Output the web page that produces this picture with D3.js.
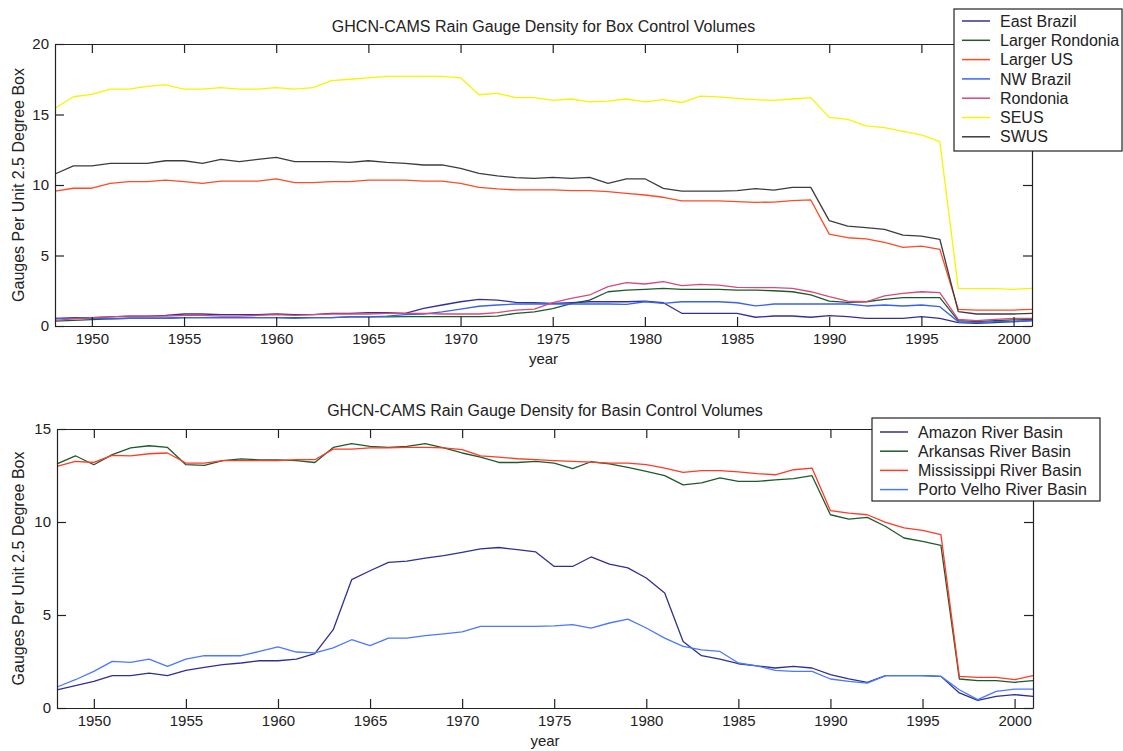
<!DOCTYPE html>
<html>
<head>
<meta charset="utf-8">
<script src="https://cdn.jsdelivr.net/npm/d3@7"></script>
<style>
  html, body { margin: 0; padding: 0; background: #fff; }
  svg { display: block; font-family: "Liberation Sans", Arial, Helvetica, sans-serif; }
</style>
</head>
<body>
<svg id="chart" width="1123" height="751"></svg>
<script>
// Yearly gauge densities, 1948-2001
const years = d3.range(1948, 2002);

// Box control volumes
const eastBrazil = [0.5,0.6,0.6,0.65,0.7,0.7,0.75,0.85,0.85,0.8,0.8,0.8,0.85,0.8,0.8,0.9,0.9,0.95,0.95,
  0.9,1.25,1.49,1.72,1.89,1.84,1.68,1.65,1.6,1.65,1.72,1.72,1.72,1.77,1.65,0.9,0.9,0.9,0.9,0.62,0.71,
  0.71,0.62,0.73,0.66,0.54,0.54,0.54,0.66,0.54,0.24,0.19,0.24,0.31,0.38];
const largerRondonia = [0.35,0.4,0.45,0.5,0.55,0.55,0.55,0.6,0.6,0.6,0.6,0.6,0.6,0.6,0.6,0.6,0.65,0.65,0.65,
  0.66,0.66,0.66,0.66,0.66,0.7,0.9,1.0,1.23,1.58,1.84,2.43,2.55,2.6,2.67,2.6,2.6,2.6,2.55,2.55,2.5,
  2.43,2.2,1.77,1.68,1.72,1.89,2.01,2.01,2.01,0.38,0.31,0.38,0.43,0.47];
const largerUS = [9.57,9.77,9.77,10.12,10.24,10.24,10.35,10.24,10.12,10.28,10.28,10.28,10.43,10.17,10.17,10.24,10.24,10.35,10.35,
  10.35,10.28,10.28,10.12,9.83,9.72,9.65,9.65,9.65,9.6,9.6,9.53,9.41,9.29,9.13,8.87,8.87,8.87,8.82,8.77,8.79,
  8.89,8.94,6.52,6.26,6.18,5.93,5.58,5.67,5.44,1.18,1.13,1.13,1.13,1.18];
const nwBrazil = [0.55,0.55,0.55,0.5,0.55,0.55,0.55,0.6,0.6,0.6,0.6,0.6,0.6,0.55,0.6,0.6,0.65,0.65,0.7,
  0.8,0.85,1.0,1.2,1.4,1.49,1.56,1.56,1.56,1.56,1.56,1.56,1.54,1.72,1.6,1.72,1.72,1.72,1.65,1.42,1.56,
  1.56,1.56,1.56,1.56,1.42,1.49,1.42,1.49,1.37,0.31,0.24,0.31,0.31,0.38];
const rondonia = [0.4,0.5,0.6,0.65,0.7,0.7,0.7,0.75,0.75,0.7,0.7,0.75,0.8,0.75,0.8,0.85,0.85,0.85,0.9,
  0.9,0.9,0.85,0.85,0.85,0.95,1.13,1.2,1.65,1.96,2.2,2.79,3.07,2.98,3.14,2.86,2.95,2.9,2.74,2.72,2.72,
  2.67,2.43,2.08,1.77,1.72,2.13,2.32,2.43,2.36,0.47,0.38,0.47,0.54,0.54];
const seus = [15.44,16.26,16.43,16.8,16.8,17.0,17.1,16.8,16.8,16.9,16.8,16.8,16.9,16.8,16.9,17.4,17.5,17.6,17.7,
  17.7,17.7,17.7,17.6,16.4,16.5,16.2,16.2,16.0,16.1,15.9,15.95,16.1,15.9,16.05,15.85,16.3,16.25,16.15,16.05,16.0,
  16.1,16.2,14.8,14.65,14.2,14.07,13.8,13.55,13.07,2.67,2.65,2.65,2.6,2.67];
const swus = [10.78,11.35,11.35,11.54,11.54,11.54,11.72,11.72,11.54,11.82,11.66,11.82,11.96,11.66,11.66,11.66,11.6,11.72,11.6,
  11.54,11.42,11.42,11.18,10.83,10.64,10.52,10.47,10.54,10.47,10.54,10.12,10.44,10.44,9.76,9.57,9.57,9.57,9.6,9.74,9.64,
  9.83,9.83,7.47,7.09,6.97,6.86,6.45,6.38,6.15,1.02,0.85,0.85,0.85,0.9];

// Basin control volumes
const amazon = [0.98,1.2,1.43,1.74,1.74,1.88,1.74,2.02,2.18,2.33,2.42,2.54,2.54,2.63,2.92,4.21,6.9,7.38,7.83,
  7.9,8.06,8.19,8.37,8.55,8.63,8.51,8.39,7.61,7.61,8.12,7.74,7.53,6.99,6.18,3.58,2.81,2.63,2.38,2.27,2.15,
  2.24,2.15,1.79,1.56,1.38,1.74,1.74,1.74,1.7,0.81,0.41,0.62,0.72,0.62];
const arkansas = [13.13,13.56,13.08,13.62,13.98,14.1,14.01,13.08,13.04,13.3,13.39,13.34,13.34,13.3,13.2,14.01,14.21,14.07,14.01,
  14.07,14.21,13.99,13.71,13.49,13.2,13.2,13.26,13.17,12.87,13.24,13.13,12.94,12.72,12.49,12.0,12.1,12.37,12.18,12.18,12.27,
  12.33,12.49,10.39,10.16,10.25,9.76,9.14,8.96,8.74,1.56,1.47,1.47,1.38,1.47];
const mississippi = [12.99,13.26,13.2,13.58,13.56,13.67,13.71,13.17,13.17,13.3,13.3,13.3,13.3,13.35,13.35,13.92,13.92,13.98,13.98,
  14.01,14.01,13.98,13.89,13.56,13.49,13.4,13.35,13.3,13.26,13.22,13.17,13.17,13.08,12.9,12.67,12.76,12.76,12.69,12.6,12.54,
  12.81,12.9,10.61,10.48,10.39,9.98,9.68,9.55,9.32,1.7,1.65,1.65,1.52,1.74];
const portoVelho = [1.13,1.52,1.97,2.51,2.45,2.63,2.24,2.63,2.81,2.81,2.81,3.04,3.28,3.01,2.96,3.23,3.67,3.35,3.76,
  3.76,3.89,3.98,4.09,4.39,4.39,4.39,4.39,4.42,4.48,4.3,4.57,4.78,4.3,3.76,3.31,3.13,3.04,2.42,2.27,2.02,
  1.97,1.97,1.56,1.43,1.34,1.74,1.74,1.74,1.7,0.98,0.45,0.89,1.02,1.02];

const xTicks = [1950, 1955, 1960, 1965, 1970, 1975, 1980, 1985, 1990, 1995, 2000];
const boxYTicks = [0, 5, 10, 15, 20];
const basinYTicks = [0, 5, 10, 15];

const boxSeries = [
  { name: "East Brazil", values: eastBrazil, color: "#34309a" },
  { name: "Larger Rondonia", values: largerRondonia, color: "#1f5a2e" },
  { name: "Larger US", values: largerUS, color: "#ff4a26" },
  { name: "NW Brazil", values: nwBrazil, color: "#3a62f0" },
  { name: "Rondonia", values: rondonia, color: "#d9487a" },
  { name: "SEUS", values: seus, color: "#f8f400" },
  { name: "SWUS", values: swus, color: "#3c3c3c" }
];
const basinSeries = [
  { name: "Amazon River Basin", values: amazon, color: "#303090" },
  { name: "Arkansas River Basin", values: arkansas, color: "#1f5a2e" },
  { name: "Mississippi River Basin", values: mississippi, color: "#ff3a26" },
  { name: "Porto Velho River Basin", values: portoVelho, color: "#4a78ff" }
];

const svg = d3.select("#chart");
const FONT = 15;
const TICK = 9;

function panel(cfg) {
  const { left, right, top, bottom, yMax, yTicks, series, title, titleY, xLabelY, legend } = cfg;
  const x = d3.scaleLinear().domain([1948, 2001]).range([left, right]);
  const y = d3.scaleLinear().domain([0, yMax]).range([bottom, top]);
  const g = svg.append("g");

  // data lines
  const line = d3.line().x((d, i) => x(years[i])).y(d => y(d));
  g.selectAll("path.series").data(series).join("path")
    .attr("class", "series")
    .attr("fill", "none")
    .attr("stroke", d => d.color)
    .attr("stroke-width", 1.3)
    .attr("stroke-linejoin", "round")
    .attr("d", d => line(d.values));

  // axes: ticks point inward on all four sides
  const axisStyle = sel => {
    sel.select(".domain").attr("stroke", "#222").attr("stroke-width", 1.2);
    sel.selectAll(".tick line").attr("stroke", "#222").attr("stroke-width", 1.2);
    sel.selectAll(".tick text").attr("fill", "#222").style("font-size", FONT + "px")
      .style("font-family", '"Liberation Sans", Arial, sans-serif');
  };
  g.append("g").attr("transform", `translate(0,${bottom})`)
    .call(d3.axisBottom(x).tickValues(xTicks).tickFormat(d3.format("d"))
      .tickSizeInner(-TICK).tickSizeOuter(0).tickPadding(7))
    .call(axisStyle);
  g.append("g").attr("transform", `translate(0,${top})`)
    .call(d3.axisTop(x).tickValues(xTicks).tickFormat("").tickSizeInner(-TICK).tickSizeOuter(0))
    .call(axisStyle);
  g.append("g").attr("transform", `translate(${left},0)`)
    .call(d3.axisLeft(y).tickValues(yTicks).tickFormat(d3.format("d"))
      .tickSizeInner(-TICK).tickSizeOuter(0).tickPadding(6))
    .call(axisStyle);
  g.append("g").attr("transform", `translate(${right},0)`)
    .call(d3.axisRight(y).tickValues(yTicks).tickFormat("").tickSizeInner(-TICK).tickSizeOuter(0))
    .call(axisStyle);

  // titles and labels
  g.append("text").attr("x", (left + right) / 2).attr("y", titleY)
    .attr("text-anchor", "middle").attr("fill", "#222").style("font-size", "16px").text(title);
  g.append("text").attr("x", (left + right) / 2).attr("y", xLabelY)
    .attr("text-anchor", "middle").attr("fill", "#222").style("font-size", FONT + "px").text("year");
  g.append("text")
    .attr("transform", `translate(24,${(top + bottom) / 2}) rotate(-90)`)
    .attr("text-anchor", "middle").attr("fill", "#222").style("font-size", "16px")
    .text("Gauges Per Unit 2.5 Degree Box");

  // legend
  const lg = g.append("g");
  lg.append("rect").attr("x", legend.x).attr("y", legend.y)
    .attr("width", legend.w).attr("height", legend.h)
    .attr("fill", "#fff").attr("stroke", "#222").attr("stroke-width", 1.2);
  const items = lg.selectAll("g.item").data(series).join("g")
    .attr("class", "item")
    .attr("transform", (d, i) => `translate(${legend.x},${legend.firstY + i * legend.step})`);
  items.append("line").attr("x1", 8).attr("x2", 36).attr("y1", 0).attr("y2", 0)
    .attr("stroke", d => d.color).attr("stroke-width", 1.5);
  items.append("text").attr("x", 46).attr("y", 0).attr("dy", "0.35em")
    .attr("fill", "#222").style("font-size", "16px").text(d => d.name);
}

panel({
  left: 55, right: 1032, top: 44, bottom: 326, yMax: 20, yTicks: boxYTicks,
  series: boxSeries,
  title: "GHCN-CAMS Rain Gauge Density for Box Control Volumes", titleY: 32, xLabelY: 364,
  legend: { x: 954, y: 9, w: 168, h: 142, firstY: 21, step: 19.3 }
});

panel({
  left: 57, right: 1033, top: 429, bottom: 708, yMax: 15, yTicks: basinYTicks,
  series: basinSeries,
  title: "GHCN-CAMS Rain Gauge Density for Basin Control Volumes", titleY: 416, xLabelY: 746,
  legend: { x: 872, y: 418, w: 228, h: 83, firstY: 432, step: 19.2 }
});
</script>
</body>
</html>
